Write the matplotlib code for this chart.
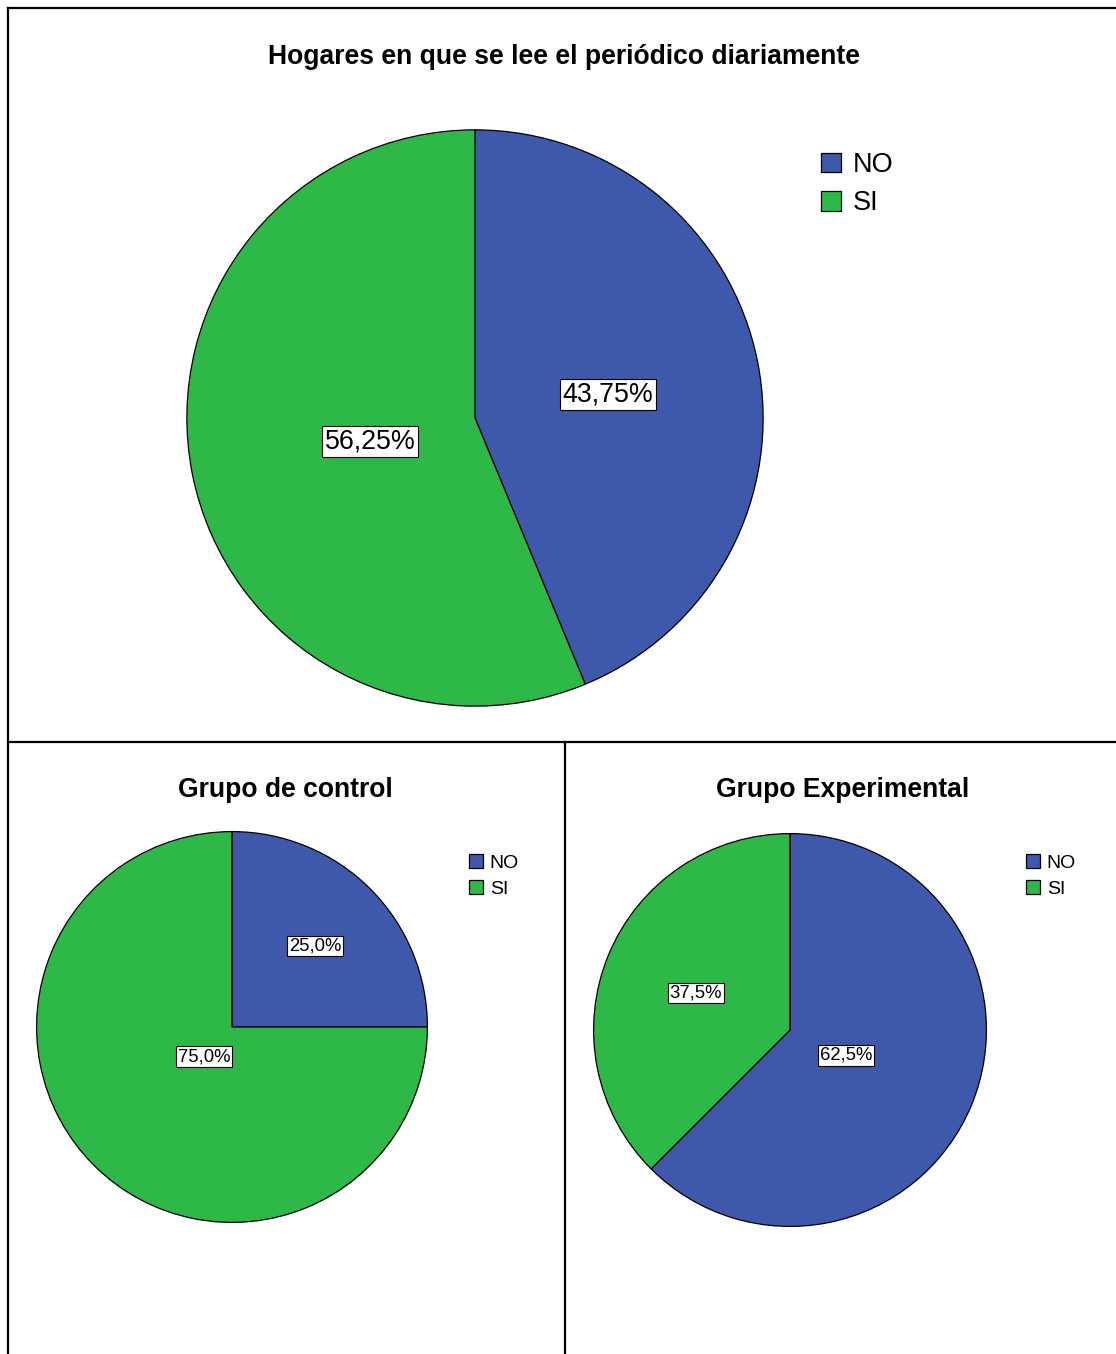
import numpy as np
import matplotlib
matplotlib.use("Agg")
import matplotlib.pyplot as plt
from matplotlib.lines import Line2D

plt.rcParams['font.family'] = ['Liberation Sans', 'DejaVu Sans']

categories = ["NO", "SI"]
total_values = [43.75, 56.25]
total_labels = ["43,75%", "56,25%"]
control_values = [25.0, 75.0]
control_labels = ["25,0%", "75,0%"]
exper_values = [62.5, 37.5]
exper_labels = ["62,5%", "37,5%"]

titles = ["Hogares en que se lee el periódico diariamente",
          "Grupo de control", "Grupo Experimental"]

colors = ["#3E58AC", "#2EB848"]

W, H = 1116, 1354
fig = plt.figure(figsize=(W / 100, H / 100), dpi=100)

def fx(px):
    return px / W

def fy(py):
    return 1 - py / H

# panel borders
for (x0, y0, x1, y1) in [(8, 8, 1116, 8), (8, 8, 8, 1354), (8, 742, 1116, 742), (565, 742, 565, 1354)]:
    fig.add_artist(Line2D([fx(x0), fx(x1)], [fy(y0), fy(y1)], color="black", lw=1.6,
                          transform=fig.transFigure, solid_capstyle="projecting"))

def draw_pie(cx, cy, r, values, labels, dists, fs, legend_xy, leg_fs, handle, lspace, tpad):
    ax = fig.add_axes([fx(cx - r), fy(cy + r), 2 * r / W, 2 * r / H])
    wedges, _ = ax.pie(values, colors=colors, startangle=90, counterclock=False,
                       radius=1, wedgeprops=dict(edgecolor="black", linewidth=0.9))
    ax.set_xlim(-1.003, 1.003)
    ax.set_ylim(-1.003, 1.003)
    ax.axis("off")
    for w, lab, d in zip(wedges, labels, dists):
        ang = np.deg2rad((w.theta1 + w.theta2) / 2)
        ax.text(d * np.cos(ang), d * np.sin(ang), lab, ha="center", va="center_baseline",
                fontsize=fs, color="black",
                bbox=dict(boxstyle="square,pad=0.1", facecolor="white",
                          edgecolor="black", linewidth=0.8))
    fig.legend(wedges, categories, loc="upper left",
               bbox_to_anchor=(fx(legend_xy[0]), fy(legend_xy[1])),
               frameon=False, fontsize=leg_fs, handlelength=handle, handleheight=handle,
               handletextpad=tpad, labelspacing=lspace, borderpad=0, borderaxespad=0)
    return ax

draw_pie(475, 418, 289, total_values, total_labels, [0.47, 0.37], 19.3,
         (821, 152), 19.5, 0.74, 0.45, 0.45)
draw_pie(232, 1027, 196, control_values, control_labels, [0.60, 0.20], 13.3,
         (469, 854), 14, 0.72, 0.43, 0.35)
draw_pie(790, 1030, 197, exper_values, exper_labels, [0.31, 0.52], 13.3,
         (1026, 854), 14, 0.72, 0.43, 0.35)

fig.text(fx(564), fy(57), titles[0], ha="center", va="center", fontsize=19.1, fontweight="bold")
fig.text(fx(285), fy(790), titles[1], ha="center", va="center", fontsize=19.1, fontweight="bold")
fig.text(fx(843), fy(790), titles[2], ha="center", va="center", fontsize=19.1, fontweight="bold")

fig.savefig("out.png", dpi=100, facecolor="white")
